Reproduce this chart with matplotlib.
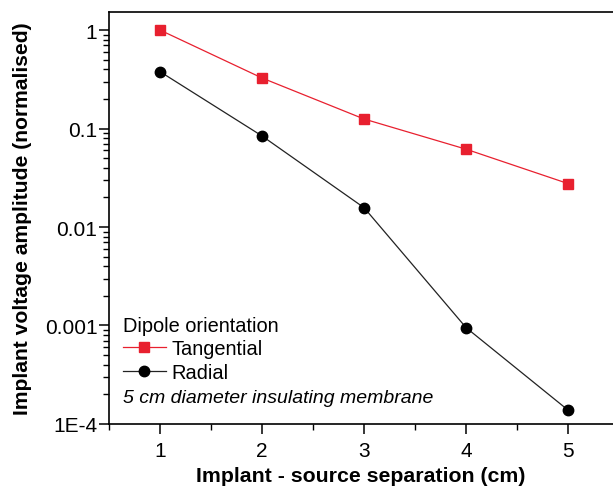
import numpy as np
import matplotlib.pyplot as plt
from matplotlib.ticker import FixedLocator, NullFormatter, LogLocator

plt.rcParams['font.family'] = ['Liberation Sans', 'DejaVu Sans']

separation = [1, 2, 3, 4, 5]
tangential = [1.0, 0.326, 0.125, 0.0617, 0.0276]
radial = [0.378, 0.084, 0.0157, 0.00095, 0.000138]
ytick_vals = [1e-4, 1e-3, 1e-2, 1e-1, 1]
ytick_labels = ['1E-4', '0.001', '0.01', '0.1', '1']

fig = plt.figure(figsize=(6.13, 4.89), dpi=100)
ax = fig.add_axes([0.178, 0.131, 0.822, 0.842])

ax.plot(separation, tangential, color='#e8202f', lw=0.9, marker='s', ms=7.5,
        mec='#e8202f', mfc='#e8202f', label='Tangential')
ax.plot(separation, radial, color='#222222', lw=0.9, marker='o', ms=7.5,
        mec='black', mfc='black', label='Radial')

ax.set_yscale('log')
ax.set_ylim(1e-4, 1.52)
ax.set_xlim(0.5, 5.44)

ax.set_yticks(ytick_vals)
ax.set_yticklabels(ytick_labels)
ax.yaxis.set_minor_locator(LogLocator(base=10, subs=np.arange(2, 10), numticks=20))
ax.yaxis.set_minor_formatter(NullFormatter())
ax.set_xticks(separation)
ax.xaxis.set_minor_locator(FixedLocator([0.5, 1.5, 2.5, 3.5, 4.5, 5.5]))

ax.tick_params(which='major', direction='out', length=7, width=1.1, labelsize=15)
ax.tick_params(which='minor', direction='out', length=4, width=1.0)
ax.tick_params(axis='x', which='major', pad=5)
ax.tick_params(axis='y', which='major', pad=1.5)
ax.spines['right'].set_visible(False)
for s in ['left', 'bottom', 'top']:
    ax.spines[s].set_linewidth(1.2)

ax.set_xlabel('Implant - source separation (cm)', fontsize=15.3, fontweight='bold')
ax.set_ylabel('Implant voltage amplitude (normalised)', fontsize=15.2, fontweight='bold')
ax.xaxis.set_label_coords(0.5, -0.126)
ax.yaxis.set_label_coords(-0.171, 0.5)
ax.xaxis.label.set_va('center')
ax.yaxis.label.set_va('center')

leg = ax.legend(title='Dipole orientation', loc='upper left', bbox_to_anchor=(0.027, 0.262),
                frameon=False, fontsize=14.4, title_fontsize=14.4, handlelength=2.15,
                handletextpad=0.3, labelspacing=0.22, borderaxespad=0, borderpad=0)
leg._legend_box.align = 'left'
ax.text(0.027, 0.064, '5 cm diameter insulating membrane', transform=ax.transAxes,
        fontsize=14, style='italic', va='center', ha='left')

fig.savefig('out.png', dpi=100)
